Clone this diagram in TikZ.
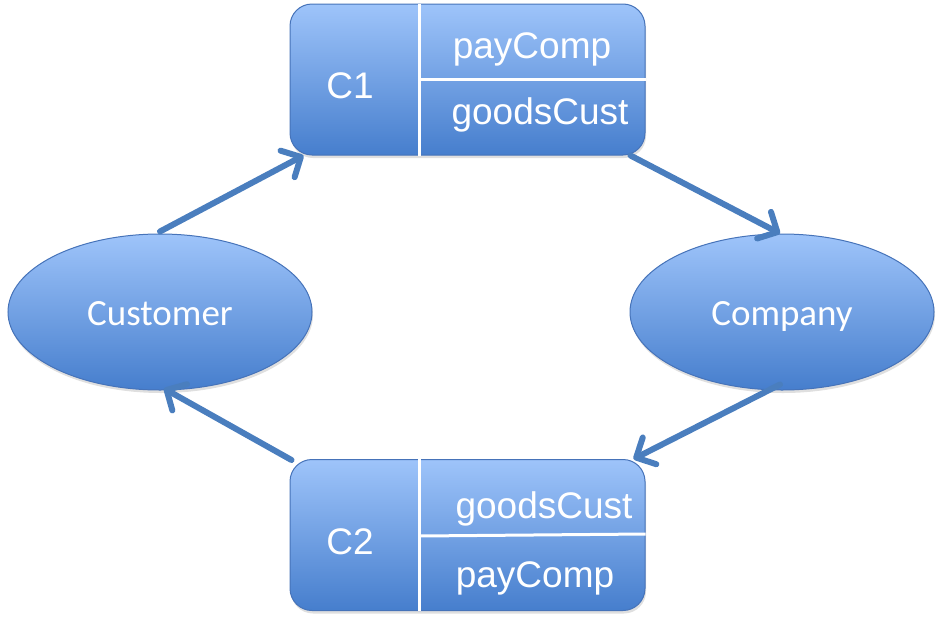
\documentclass[tikz,border=0pt]{standalone}
\usepackage{fontspec}
\newfontfamily\arialf{Liberation Sans}
\newfontfamily\calf{Carlito}
\usetikzlibrary{arrows.meta,calc,shadows,shapes.geometric}
\definecolor{topc}{RGB}{158,196,250}
\definecolor{botc}{RGB}{70,126,205}
\definecolor{edgec}{RGB}{70,115,185}
\definecolor{arrc}{RGB}{74,126,190}
\tikzset{
  boxshape/.style={rectangle, rounded corners=22pt, draw=edgec, line width=1pt,
    top color=topc, bottom color=botc, minimum width=355pt, minimum height=151pt,
    drop shadow={opacity=0.25, shadow xshift=1pt, shadow yshift=-3pt}},
  ellshape/.style={ellipse, draw=edgec, line width=1pt,
    top color=topc, bottom color=botc, minimum width=304pt, minimum height=156pt,
    inner sep=0pt,
    drop shadow={opacity=0.25, shadow xshift=1pt, shadow yshift=-3pt}},
  boxtext/.style={text=white, font=\arialf\fontsize{37}{40}\selectfont, inner sep=0pt},
  elltext/.style={text=white, font=\calf\fontsize{37}{40}\selectfont, inner sep=0pt},
  divider/.style={draw=white, line width=3pt},
  flow/.style={draw=arrc, line width=6pt, line cap=round,
    -{Straight Barb[length=15pt,width=30pt,line width=6pt,round]}}
}
\begin{document}
\begin{tikzpicture}[x=1pt,y=-1pt]
\useasboundingbox (0,0) rectangle (941,621);
% nodes
\node[boxshape] (C1) at (467.5,79.5) {};
\node[boxshape] (C2) at (467.5,535) {};
\node[ellshape] (cust) at (160,312) {};
\node[ellshape] (comp) at (782,312) {};
\node[elltext, anchor=base] (custlab) at (160,325) {Customer};
\node[elltext, anchor=base] (complab) at (782,325) {Company};
% dividers C1
\coordinate (c1vt) at ($(C1.north west)+(130,0)$);
\coordinate (c1vb) at ($(C1.south west)+(130,0)$);
\coordinate (c1hl) at ($(C1.west)+(130,0)$);
\draw[divider] (c1vt) -- (c1vb);
\draw[divider] (c1hl) -- (C1.east);
% dividers C2
\coordinate (c2vt) at ($(C2.north west)+(130,0)$);
\coordinate (c2vb) at ($(C2.south west)+(130,0)$);
\coordinate (c2hl) at ($(C2.west)+(130,1)$);
\coordinate (c2hr) at ($(C2.east)+(0,-1)$);
\draw[divider] (c2vt) -- (c2vb);
\draw[divider] (c2hl) -- (c2hr);
% texts
\node[boxtext, anchor=base] (c1lab) at (350,98) {C1};
\node[boxtext, anchor=base] (c1a) at (532,58) {payComp};
\node[boxtext, anchor=base] (c1b) at (540,124) {goodsCust};
\node[boxtext, anchor=base] (c2lab) at (350,554) {C2};
\node[boxtext, anchor=base] (c2a) at (544,518) {goodsCust};
\node[boxtext, anchor=base] (c2b) at (535,587) {payComp};
% arrows
\coordinate (a1e) at ($(C1.south west)+(14,0)$);
\coordinate (a2s) at ($(C1.south east)+(-15,0)$);
\coordinate (a3e) at ($(C2.north east)+(-12,0)$);
\coordinate (a4s) at ($(C2.north west)+(2,1)$);
\draw[flow] ($(cust.north)+(0,-2)$) -- (a1e);
\draw[flow] (a2s) -- ($(comp.north)+(-2,0)$);
\draw[flow] ($(comp.south)+(-2,-6)$) -- (a3e);
\draw[flow] (a4s) -- ($(cust.south)+(4,-2)$);
\end{tikzpicture}
\end{document}
